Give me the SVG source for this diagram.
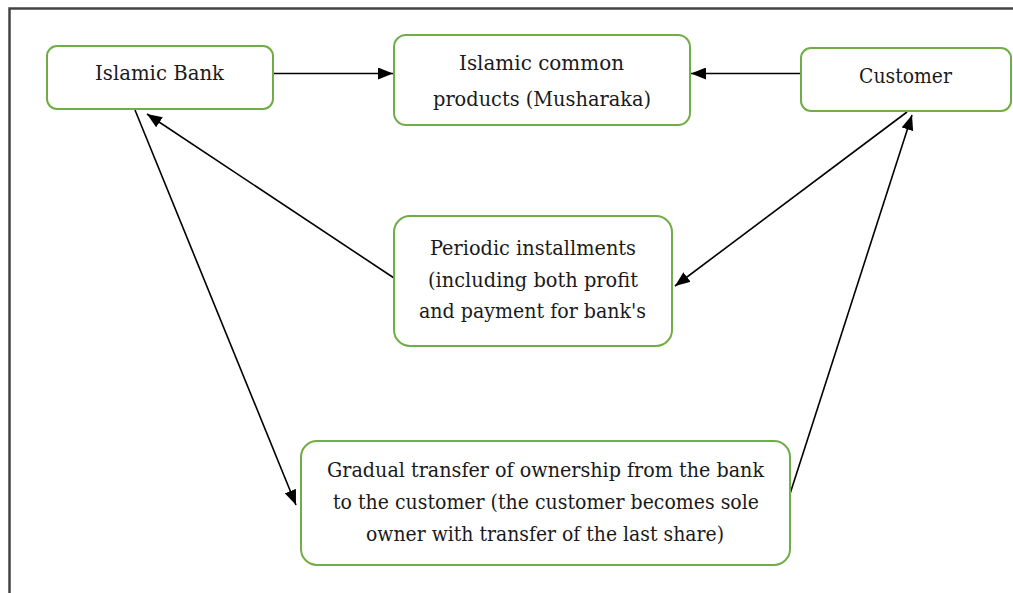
<svg xmlns="http://www.w3.org/2000/svg" width="1013" height="593" viewBox="0 0 1013 593">
<style>
.box{fill:#fff;stroke:#70AD47;stroke-width:2}
.t{font-family:'DejaVu Serif','Liberation Serif',serif;font-size:21px;fill:#1a1a1a;text-anchor:middle}
.c{stroke:#000;stroke-width:1.6;fill:none;marker-end:url(#ah)}
</style>
<defs>
<marker id="ah" viewBox="0 0 15 12" refX="15" refY="6" markerWidth="15" markerHeight="12" markerUnits="userSpaceOnUse" orient="auto">
<path d="M0,0 L15,6 L0,12 z" fill="#000"/>
</marker>
</defs>
<rect width="1013" height="593" fill="#fff"/>
<path d="M9.5,593 V8.5 H1013" fill="none" stroke="#444" stroke-width="2.5"/>
<g id="connectors">
<line class="c" x1="273" y1="73.5" x2="393" y2="73.5"/>
<line class="c" x1="801" y1="73.5" x2="691" y2="73.5"/>
<line class="c" x1="394" y1="278" x2="147" y2="114"/>
<line class="c" x1="135" y1="110" x2="296" y2="505"/>
<line class="c" x1="907" y1="112" x2="675" y2="286"/>
<line class="c" x1="789" y1="497" x2="912" y2="115"/>
</g>
<g id="islamic-bank">
<rect class="box" x="47" y="46" width="226" height="63" rx="10"/>
<text class="t" x="159.5" y="80" textLength="129" lengthAdjust="spacingAndGlyphs">Islamic Bank</text>
</g>
<g id="common-products">
<rect class="box" x="394" y="35" width="296" height="90" rx="12"/>
<text class="t" x="541.5" y="70" textLength="165" lengthAdjust="spacingAndGlyphs">Islamic common</text>
<text class="t" x="542" y="106" textLength="218" lengthAdjust="spacingAndGlyphs">products (Musharaka)</text>
</g>
<g id="customer">
<rect class="box" x="801" y="48" width="210" height="63" rx="10"/>
<text class="t" x="905.5" y="83" textLength="93" lengthAdjust="spacingAndGlyphs">Customer</text>
</g>
<g id="periodic">
<rect class="box" x="394" y="216" width="278" height="130" rx="16"/>
<text class="t" x="533" y="255" textLength="206" lengthAdjust="spacingAndGlyphs">Periodic installments</text>
<text class="t" x="533" y="287" textLength="210" lengthAdjust="spacingAndGlyphs">(including both profit</text>
<text class="t" x="532.5" y="318" textLength="227" lengthAdjust="spacingAndGlyphs">and payment for bank's</text>
</g>
<g id="gradual">
<rect class="box" x="301" y="441" width="489" height="124" rx="16"/>
<text class="t" x="545.5" y="477" textLength="437" lengthAdjust="spacingAndGlyphs">Gradual transfer of ownership from the bank</text>
<text class="t" x="546" y="509" textLength="426" lengthAdjust="spacingAndGlyphs">to the customer (the customer becomes sole</text>
<text class="t" x="545" y="541" textLength="358" lengthAdjust="spacingAndGlyphs">owner with transfer of the last share)</text>
</g>
</svg>
